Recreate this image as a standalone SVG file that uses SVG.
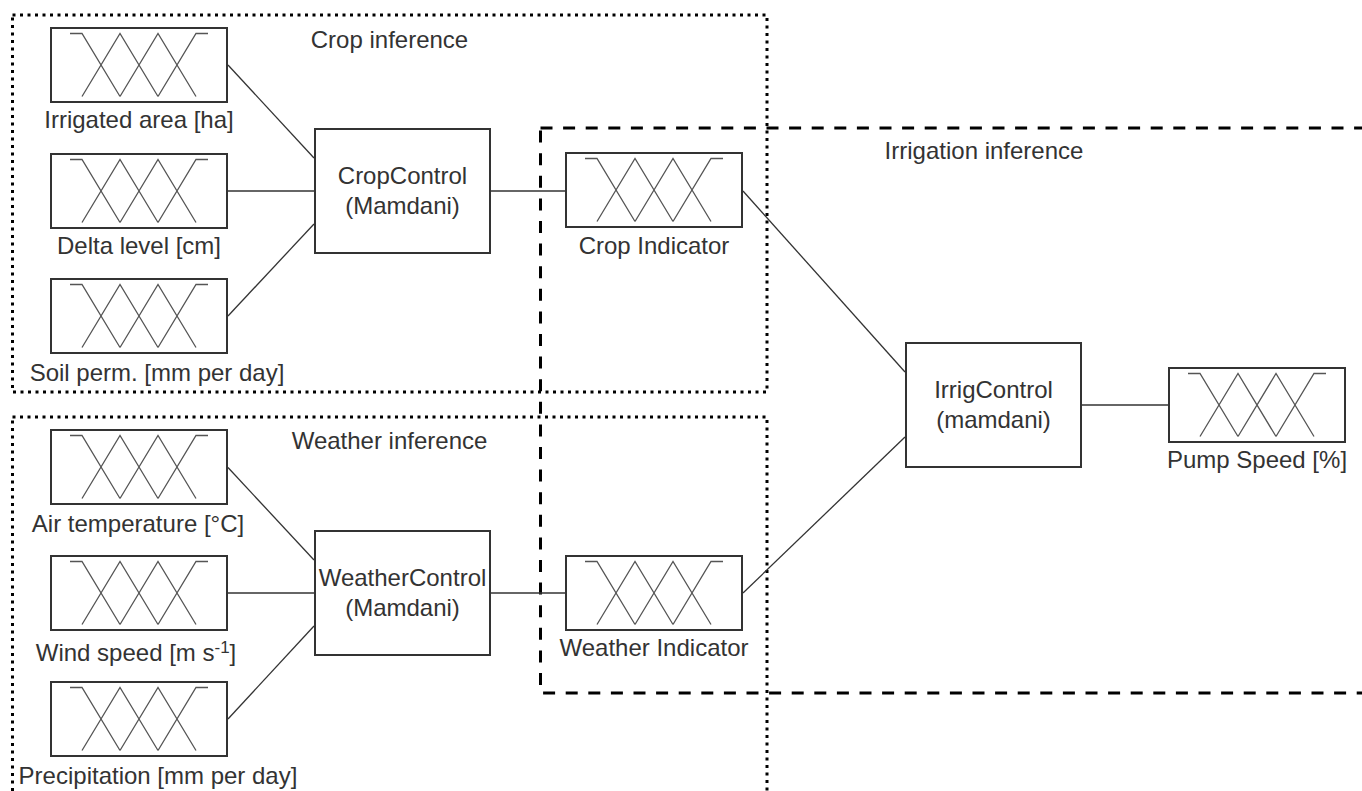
<svg xmlns="http://www.w3.org/2000/svg" xmlns:xlink="http://www.w3.org/1999/xlink" width="1362" height="791" viewBox="0 0 1362 791">
<style>
  .lbl { font-family: "Liberation Sans", Arial, sans-serif; font-size: 24px; fill: #333; text-anchor: middle; }
  .dotted { fill: none; stroke: #000; stroke-width: 3; stroke-dasharray: 3 4.5; }
  .dashed { fill: none; stroke: #000; stroke-width: 3; stroke-dasharray: 12 10.6; }
  .ctrl { fill: #fff; stroke: #333; stroke-width: 2; }
  .conn path { fill: none; stroke: #333; stroke-width: 1.3; }
</style>
<defs>
  <g id="mf">
    <rect x="1" y="1" width="176" height="74" fill="#fff" stroke="#333" stroke-width="2"/>
    <path d="M20,6.5 H32 L70,69.5 M32,69.5 L70,6.5 L108,69.5 M70,69.5 L108,6.5 L146,69.5 M108,69.5 L146,6.5 H158" fill="none" stroke="#555" stroke-width="1.3"/>
  </g>
</defs>
<rect width="1362" height="791" fill="#fff"/>

<g id="crop-inference">
  <rect class="dotted" x="12.5" y="15" width="754.5" height="377"/>
  <text class="lbl" x="389.5" y="48">Crop inference</text>
</g>
<g id="weather-inference">
  <rect class="dotted" x="12.5" y="417" width="754.5" height="400"/>
  <text class="lbl" x="389.5" y="449">Weather inference</text>
</g>
<g id="irrigation-inference">
  <rect class="dashed" x="540.5" y="128" width="900" height="565"/>
  <text class="lbl" x="984" y="159">Irrigation inference</text>
</g>

<g id="connectors" class="conn">
  <path d="M228,65 L314,158"/>
  <path d="M228,191 L314,191"/>
  <path d="M228,316 L314,224"/>
  <path d="M491,191 L565,191"/>
  <path d="M743,191 L905,372"/>
  <path d="M228,467.5 L314,560"/>
  <path d="M228,593 L314,593"/>
  <path d="M228,719 L314,626"/>
  <path d="M491,593 L565,593"/>
  <path d="M743,593 L905,437"/>
  <path d="M1082,405 L1168,405"/>
</g>

<g id="irrigated-area">
  <use xlink:href="#mf" x="50" y="27"/>
  <text class="lbl" x="139" y="128">Irrigated area [ha]</text>
</g>
<g id="delta-level">
  <use xlink:href="#mf" x="50" y="153"/>
  <text class="lbl" x="139" y="254">Delta level [cm]</text>
</g>
<g id="soil-perm">
  <use xlink:href="#mf" x="50" y="278"/>
  <text class="lbl" x="157" y="381">Soil perm. [mm per day]</text>
</g>
<g id="crop-control">
  <rect class="ctrl" x="315" y="129" width="175" height="124"/>
  <text class="lbl" x="402.5" y="184">CropControl</text>
  <text class="lbl" x="402.5" y="214">(Mamdani)</text>
</g>
<g id="crop-indicator">
  <use xlink:href="#mf" x="565" y="152"/>
  <text class="lbl" x="654" y="254">Crop Indicator</text>
</g>

<g id="air-temperature">
  <use xlink:href="#mf" x="50" y="429"/>
  <text class="lbl" x="138" y="532">Air temperature [°C]</text>
</g>
<g id="wind-speed">
  <use xlink:href="#mf" x="50" y="555"/>
  <text class="lbl" x="136" y="661">Wind speed [m s<tspan dy="-8" font-size="17">-1</tspan><tspan dy="8">]</tspan></text>
</g>
<g id="precipitation">
  <use xlink:href="#mf" x="50" y="681"/>
  <text class="lbl" x="158" y="784">Precipitation [mm per day]</text>
</g>
<g id="weather-control">
  <rect class="ctrl" x="315" y="531" width="175" height="124"/>
  <text class="lbl" x="402.5" y="586">WeatherControl</text>
  <text class="lbl" x="402.5" y="616">(Mamdani)</text>
</g>
<g id="weather-indicator">
  <use xlink:href="#mf" x="565" y="555"/>
  <text class="lbl" x="654" y="656">Weather Indicator</text>
</g>

<g id="irrig-control">
  <rect class="ctrl" x="906" y="343" width="175" height="124"/>
  <text class="lbl" x="993.5" y="398">IrrigControl</text>
  <text class="lbl" x="993.5" y="428">(mamdani)</text>
</g>
<g id="pump-speed">
  <use xlink:href="#mf" x="1168" y="367"/>
  <text class="lbl" x="1257" y="468">Pump Speed [%]</text>
</g>
</svg>
